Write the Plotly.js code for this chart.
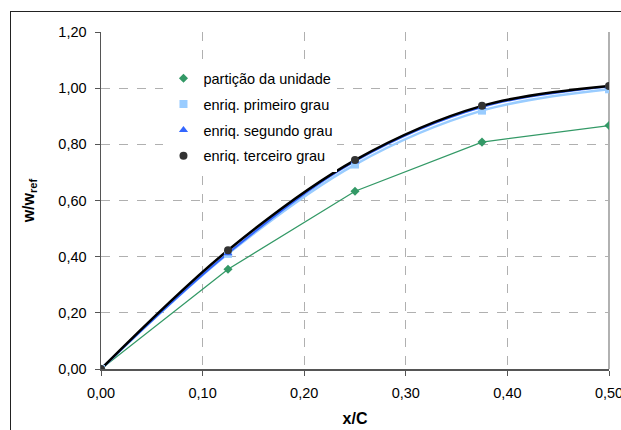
<!DOCTYPE html>
<html>
<head>
<meta charset="utf-8">
<script src="https://cdn.plot.ly/plotly-3.0.1.min.js"></script>
<style>
html,body{margin:0;padding:0;background:#fff;overflow:hidden;}
#chart{width:621px;height:430px;position:absolute;left:0;top:0;}
#frame{position:absolute;left:10px;top:11px;width:800px;height:600px;border:1.5px solid #222;pointer-events:none;}
</style>
</head>
<body>
<div id="chart"></div>
<div id="frame"></div>
<script>
const xNodes = [0, 0.125, 0.25, 0.375, 0.5];
const particao = [0, 0.355, 0.633, 0.808, 0.867];
const primeiro = [0, 0.410, 0.728, 0.920, 0.996];
const segundo = [0, 0.412, 0.740, 0.933, 1.006];
const terceiro = [0, 0.423, 0.744, 0.937, 1.008];
const seriesNames = ['partição da unidade', 'enriq. primeiro grau', 'enriq. segundo grau', 'enriq. terceiro grau'];
const xTicks = [0, 0.1, 0.2, 0.3, 0.4, 0.5];
const yTicks = [0, 0.2, 0.4, 0.6, 0.8, 1.0, 1.2];

const traces = [
  {x: xNodes, y: particao, mode: 'lines', line: {color: '#339966', width: 1.3}, showlegend: false, hoverinfo: 'skip'},
  {x: xNodes, y: primeiro, mode: 'lines', line: {color: '#99CCFF', width: 2.5, shape: 'spline', smoothing: 1}, showlegend: false, hoverinfo: 'skip'},
  {x: xNodes, y: segundo, mode: 'lines', line: {color: '#3366FF', width: 2, shape: 'spline', smoothing: 1}, showlegend: false, hoverinfo: 'skip'},
  {x: xNodes, y: terceiro, mode: 'lines', line: {color: '#000000', width: 2.5, shape: 'spline', smoothing: 1}, showlegend: false, hoverinfo: 'skip'},
  {x: xNodes, y: particao, mode: 'markers', name: seriesNames[0], legendgroup: 'a', marker: {symbol: 'diamond', color: '#339966', size: 7}},
  {x: xNodes, y: primeiro, mode: 'markers', name: seriesNames[1], legendgroup: 'b', marker: {symbol: 'square', color: '#99CCFF', size: 8}},
  {x: xNodes, y: segundo, mode: 'markers', name: seriesNames[2], legendgroup: 'c', marker: {symbol: 'triangle-up', color: '#3366FF', size: 8}},
  {x: xNodes, y: terceiro, mode: 'markers', name: seriesNames[3], legendgroup: 'd', marker: {symbol: 'circle', color: '#333333', size: 8}}
];

const fam = 'Liberation Sans, Arial, sans-serif';
const axisFont = {family: fam, size: 14.5, color: '#000'};

const layout = {
  width: 621, height: 430,
  margin: {l: 101, r: 12, t: 32, b: 61, pad: 0},
  paper_bgcolor: 'rgba(0,0,0,0)', plot_bgcolor: '#fff',
  separators: ',.',
  font: axisFont,
  showlegend: true,
  legend: {
    x: 0.123, y: 0.91, xanchor: 'left', yanchor: 'top',
    bgcolor: '#ffffff', borderwidth: 0,
    font: {family: fam, size: 14.5, color: '#000'},
    tracegroupgap: 4, itemwidth: 30
  },
  xaxis: {
    range: [0, 0.5], tickvals: xTicks, tickformat: '.2f',
    showgrid: true, gridcolor: '#b0b0b0', griddash: 'dash', gridwidth: 1,
    showline: true, linecolor: '#555', linewidth: 1.5,
    ticks: 'outside', ticklen: 5, tickcolor: '#555', tickwidth: 1,
    ticklabelstandoff: 5, ticklabeloverflow: 'allow',
    zeroline: false, automargin: false,
    tickfont: axisFont,
    title: {text: '<b>x/C</b>', font: {family: fam, size: 16, color: '#000'}, standoff: 13}
  },
  yaxis: {
    range: [0, 1.2], tickvals: yTicks, tickformat: '.2f',
    showgrid: true, gridcolor: '#b0b0b0', griddash: 'dash', gridwidth: 1,
    showline: true, linecolor: '#555', linewidth: 1.5,
    ticks: 'outside', ticklen: 5, tickcolor: '#555', tickwidth: 1,
    ticklabelstandoff: 5, ticklabeloverflow: 'allow',
    zeroline: false, automargin: false,
    tickfont: axisFont,
    title: {text: '<b>w/w<sub>ref</sub></b>', font: {family: fam, size: 16, color: '#000'}, standoff: 20}
  },
  shapes: [
    {type: 'line', xref: 'paper', yref: 'paper', x0: 1, x1: 1, y0: 0, y1: 1, line: {color: '#888', width: 1.3}, layer: 'below'}
  ]
};

Plotly.newPlot('chart', traces, layout, {displayModeBar: false, staticPlot: true});
</script>
</body>
</html>
